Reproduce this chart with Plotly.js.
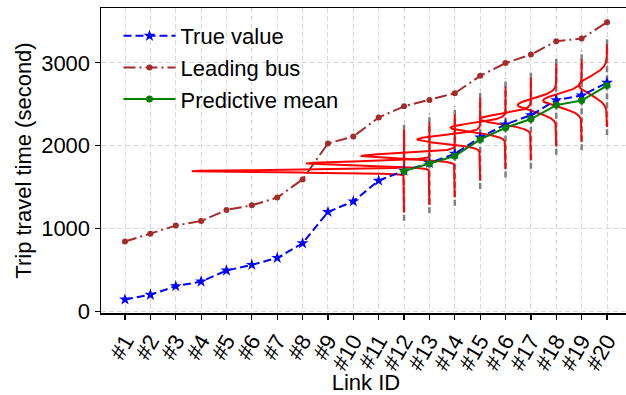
<!DOCTYPE html>
<html>
<head>
<meta charset="utf-8">
<script src="https://cdn.plot.ly/plotly-3.0.1.min.js"></script>
<style>
  html, body { margin: 0; padding: 0; overflow: hidden; background: #fff; }
  #chart { width: 640px; height: 395px; }
</style>
</head>
<body>
<div id="chart"></div>
<script>
// Link labels along the route
const linkIds = ['#1', '#2', '#3', '#4', '#5', '#6', '#7', '#8', '#9', '#10',
                 '#11', '#12', '#13', '#14', '#15', '#16', '#17', '#18', '#19', '#20'];

// Observed trip travel time (s)
const trueValue = [141, 198, 302, 358, 491, 560, 644, 820, 1199, 1327,
                   1577, 1697, 1790, 1902, 2099, 2256, 2369, 2550, 2606, 2759];

// Trip travel time of the leading bus (s)
const leadingBus = [841, 934, 1034, 1090, 1223, 1279, 1372, 1592, 2027, 2111,
                    2340, 2475, 2551, 2634, 2843, 2997, 3100, 3262, 3293, 3491];

// Links with a probabilistic prediction
const predLinks = ['#12', '#13', '#14', '#15', '#16', '#17', '#18', '#19', '#20'];
const predMean  = [1692, 1784, 1875, 2075, 2216, 2321, 2490, 2545, 2726];
const predStd   = [14.5, 25, 33, 49, 56, 60, 80, 80, 110];

// Drawing settings for the density profiles
const DENSITY_SCALE = 304;   // horizontal size of a unit of density (x-units * s)
const CURVE_HALF = 500;      // density drawn over mean +/- this (s)
const BAR_HALF = 600;        // grey guide over mean +/- this (s)

const xIndex = linkIds.map((_, i) => i);
const FONT = 'Liberation Sans, Arial, sans-serif';

const traces = [];

// grey guides and red predictive densities for each predicted link
predLinks.forEach((lab, k) => {
  const x0 = linkIds.indexOf(lab);
  const mu = predMean[k], sd = predStd[k];
  traces.push({
    x: [x0, x0], y: [mu - BAR_HALF, mu + BAR_HALF],
    mode: 'lines', showlegend: false, hoverinfo: 'skip',
    line: { color: '#808080', width: 2.5, dash: '6px,3px' }
  });
  const xs = [], ys = [];
  const n = 2001;
  for (let j = 0; j < n; j++) {
    const y = mu - CURVE_HALF + (2 * CURVE_HALF) * j / (n - 1);
    const pdf = Math.exp(-0.5 * Math.pow((y - mu) / sd, 2)) / (sd * Math.sqrt(2 * Math.PI));
    xs.push(x0 - DENSITY_SCALE * pdf);
    ys.push(y);
  }
  traces.push({
    x: xs, y: ys, mode: 'lines', showlegend: false, hoverinfo: 'skip',
    line: { color: '#ff0000', width: 2 }
  });
});

traces.push({
  name: 'True value', x: xIndex, y: trueValue, mode: 'lines+markers',
  line: { color: '#0000ff', width: 2, dash: '8px,4px' },
  marker: { symbol: 'star', size: 9, color: '#0000ff' }
});
traces.push({
  name: 'Leading bus', x: xIndex, y: leadingBus, mode: 'lines+markers',
  line: { color: '#a52a2a', width: 2, dash: '12px,4px,2px,4px' },
  marker: { symbol: 'circle', size: 6, color: '#a52a2a' }
});
traces.push({
  name: 'Predictive mean', x: predLinks.map(l => linkIds.indexOf(l)), y: predMean,
  mode: 'lines+markers',
  line: { color: '#008000', width: 2 },
  marker: { symbol: 'circle', size: 7, color: '#008000' }
});

const layout = {
  width: 640, height: 395,
  margin: { l: 101, r: 9, t: 8, b: 82 },
  paper_bgcolor: '#ffffff', plot_bgcolor: '#ffffff',
  font: { family: FONT, size: 22, color: '#000' },
  showlegend: true,
  legend: {
    x: 0.033, y: 0.977, xanchor: 'left', yanchor: 'top',
    bgcolor: 'rgba(255,255,255,0)', borderwidth: 0,
    font: { family: FONT, size: 22, color: '#000' },
    itemwidth: 52, traceorder: 'normal'
  },
  xaxis: {
    range: [-0.946, 19.946], tickmode: 'array', tickvals: xIndex, ticktext: linkIds,
    tickangle: -60, ticks: 'outside', ticklen: 5, tickwidth: 1.2, tickcolor: '#000',
    showline: true, linecolor: '#000', linewidth: 1.5, mirror: true,
    showgrid: true, gridcolor: '#d9d9d9', gridwidth: 1, griddash: '5px,3px',
    zeroline: false,
    tickfont: { family: FONT, size: 22, color: '#000' },
    title: { text: 'Link ID', font: { family: FONT, size: 22, color: '#000' }, standoff: 4 }
  },
  yaxis: {
    range: [-22, 3663], tickmode: 'array', tickvals: [0, 1000, 2000, 3000],
    ticks: 'outside', ticklen: 5, tickwidth: 1.2, tickcolor: '#000',
    showline: true, linecolor: '#000', linewidth: 1.5, mirror: true,
    showgrid: true, gridcolor: '#d9d9d9', gridwidth: 1, griddash: '5px,3px',
    zeroline: false,
    tickfont: { family: FONT, size: 22, color: '#000' },
    title: { text: 'Trip travel time (second)', font: { family: FONT, size: 22, color: '#000' }, standoff: 3 }
  }
};

Plotly.newPlot('chart', traces, layout, { staticPlot: true, displayModeBar: false });
</script>
</body>
</html>
